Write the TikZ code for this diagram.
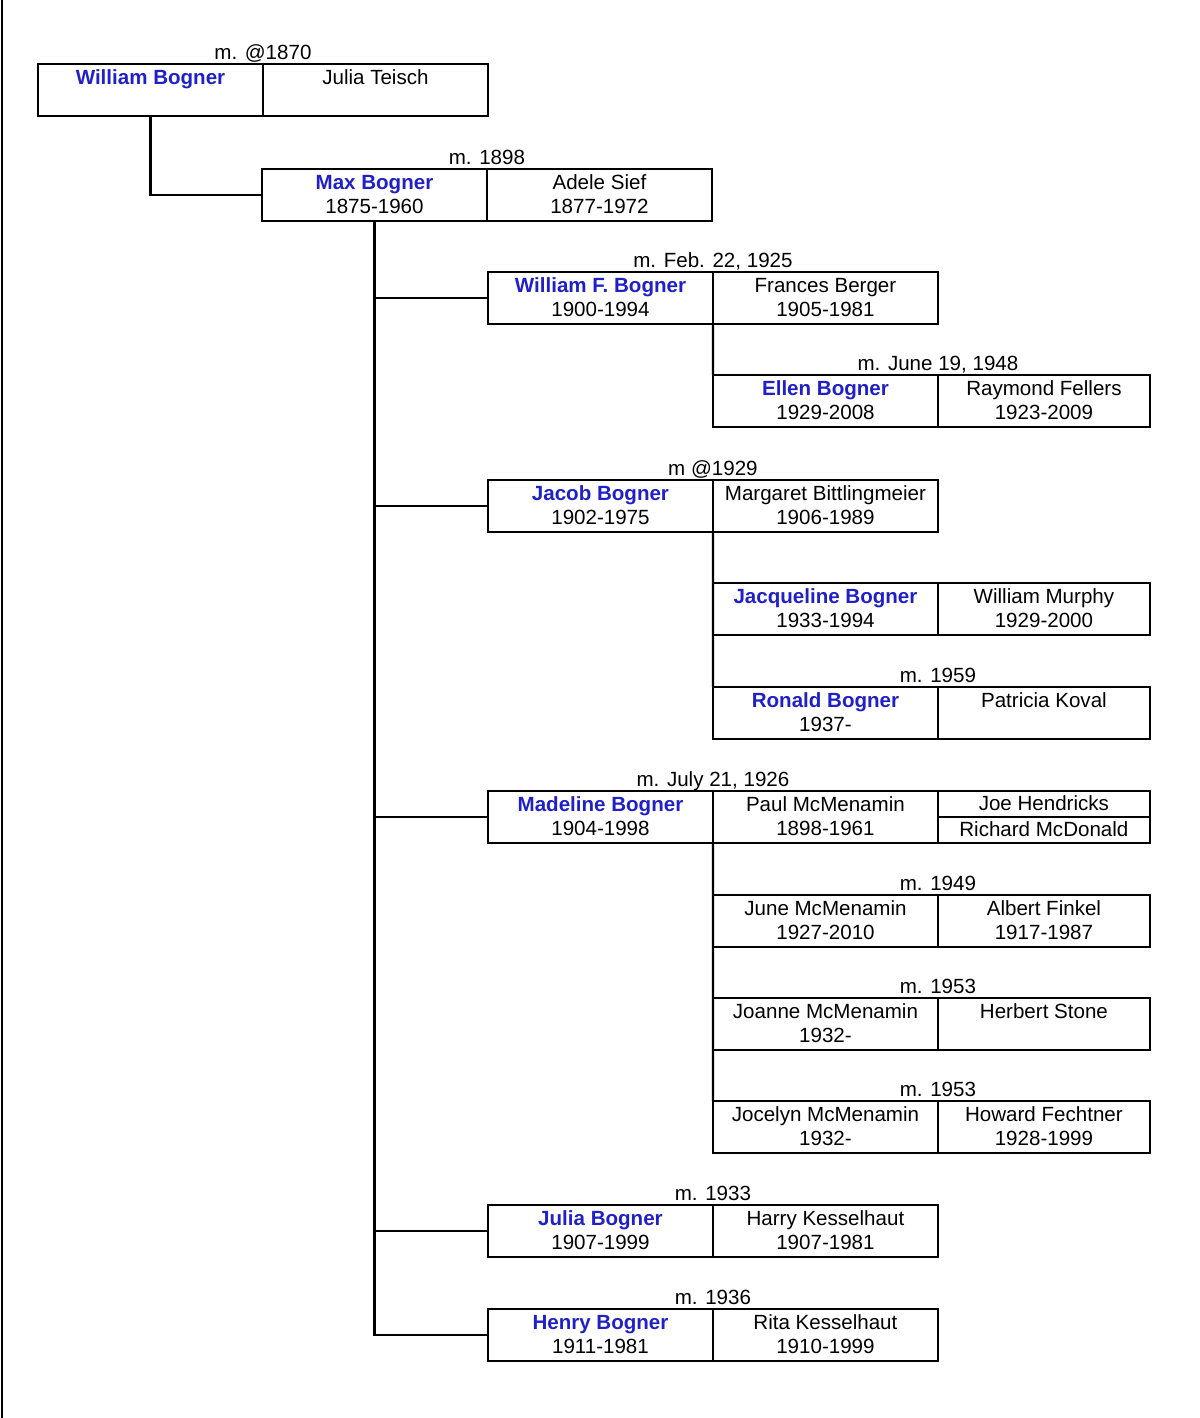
\documentclass[tikz,border=0pt]{standalone}
\usepackage{fontspec}
\setmainfont{Liberation Sans}
\usetikzlibrary{positioning}
\definecolor{nameblue}{RGB}{32,32,200}

\newcommand{\bname}[1]{\textcolor{nameblue}{\bfseries #1}}
\newcommand{\cstrut}{\rule[-3.4pt]{0pt}{14.2pt}}
\newcommand{\cellt}[2]{\cstrut#1\\\cstrut#2}

\tikzset{
  cell/.style={draw, line width=1.2pt, inner sep=0pt, outer sep=0pt,
    minimum width=4.5cm, minimum height=1.04cm, align=center,
    font=\fontsize{11.7}{14.2}\selectfont},
  narrow/.style={cell, minimum width=4.24cm},
  half/.style={narrow, minimum height=0.52cm},
  mlabel/.style={anchor=base, yshift=2.8pt, inner sep=0pt,
    font=\fontsize{11.7}{14.2}\selectfont},
  link/.style={line width=1.2pt}
}

\begin{document}
\begin{tikzpicture}[x=0.02cm, y=-0.02cm]
	\useasboundingbox (0,0) rectangle (1200,1418);
	\draw [line width=1.5pt] (2,0) -- (2,1418);
	% William and Julia
	\node [cell, anchor=north west] (wb) at (38,64) {\cellt{\bname{William Bogner}}{}};
	\node [cell, right=0pt of wb] (jt) {\cellt{Julia Teisch}{}};
	\node [mlabel] (m1) at (wb.north east) {m. @1870};
	% Max and Adele
	\node [cell, anchor=north west] (max) at (262,169) {\cellt{\bname{Max Bogner}}{1875-1960}};
	\node [cell, right=0pt of max] (as) {\cellt{Adele Sief}{1877-1972}};
	\node [mlabel] (m2) at (max.north east) {m. 1898};
	% children of Max
	\node [cell, anchor=north west] (wf) at (488,272) {\cellt{\bname{William F. Bogner}}{1900-1994}};
	\node [cell, right=0pt of wf] (fb) {\cellt{Frances Berger}{1905-1981}};
	\node [mlabel] (m3) at (wf.north east) {m. Feb. 22, 1925};
	\node [cell, anchor=north west] (ellen) at (713,375) {\cellt{\bname{Ellen Bogner}}{1929-2008}};
	\node [narrow, right=0pt of ellen] (rf) {\cellt{Raymond Fellers}{1923-2009}};
	\node [mlabel] (m4) at (ellen.north east) {m. June 19, 1948};
	\node [cell, anchor=north west] (jacob) at (488,480) {\cellt{\bname{Jacob Bogner}}{1902-1975}};
	\node [cell, right=0pt of jacob] (mb) {\cellt{Margaret Bittlingmeier}{1906-1989}};
	\node [mlabel] (m5) at (jacob.north east) {m @1929};
	\node [cell, anchor=north west] (jacq) at (713,583) {\cellt{\bname{Jacqueline Bogner}}{1933-1994}};
	\node [narrow, right=0pt of jacq] (wm) {\cellt{William Murphy}{1929-2000}};
	\node [cell, anchor=north west] (ron) at (713,687) {\cellt{\bname{Ronald Bogner}}{1937-}};
	\node [narrow, right=0pt of ron] (pk) {\cellt{Patricia Koval}{}};
	\node [mlabel] (m6) at (ron.north east) {m. 1959};
	\node [cell, anchor=north west] (mad) at (488,791) {\cellt{\bname{Madeline Bogner}}{1904-1998}};
	\node [cell, right=0pt of mad] (pm) {\cellt{Paul McMenamin}{1898-1961}};
	\node [half, anchor=north west] (jh) at (pm.north east) {\cstrut Joe Hendricks};
	\node [half, below=0pt of jh] (rm) {\cstrut Richard McDonald};
	\node [mlabel] (m7) at (mad.north east) {m. July 21, 1926};
	\node [cell, anchor=north west] (june) at (713,895) {\cellt{June McMenamin}{1927-2010}};
	\node [narrow, right=0pt of june] (af) {\cellt{Albert Finkel}{1917-1987}};
	\node [mlabel] (m8) at (june.north east) {m. 1949};
	\node [cell, anchor=north west] (joanne) at (713,998) {\cellt{Joanne McMenamin}{1932-}};
	\node [narrow, right=0pt of joanne] (hs) {\cellt{Herbert Stone}{}};
	\node [mlabel] (m9) at (joanne.north east) {m. 1953};
	\node [cell, anchor=north west] (jocelyn) at (713,1101) {\cellt{Jocelyn McMenamin}{1932-}};
	\node [narrow, right=0pt of jocelyn] (hf) {\cellt{Howard Fechtner}{1928-1999}};
	\node [mlabel] (m10) at (jocelyn.north east) {m. 1953};
	\node [cell, anchor=north west] (julia) at (488,1205) {\cellt{\bname{Julia Bogner}}{1907-1999}};
	\node [cell, right=0pt of julia] (hk) {\cellt{Harry Kesselhaut}{1907-1981}};
	\node [mlabel] (m11) at (julia.north east) {m. 1933};
	\node [cell, anchor=north west] (henry) at (488,1309) {\cellt{\bname{Henry Bogner}}{1911-1981}};
	\node [cell, right=0pt of henry] (rk) {\cellt{Rita Kesselhaut}{1910-1999}};
	\node [mlabel] (m12) at (henry.north east) {m. 1936};
	% lines of descent
	\draw [link] (wb.south) |- (max.west);
	\draw [link] (max.south) |- (henry.west);
	\draw [link] (max.south |- wf.west) -- (wf.west);
	\draw [link] (max.south |- jacob.west) -- (jacob.west);
	\draw [link] (max.south |- mad.west) -- (mad.west);
	\draw [link] (max.south |- julia.west) -- (julia.west);
	\draw [link] (wf.south east) -- (ellen.north west);
	\draw [link] (jacob.south east) -- (ron.north west);
	\draw [link] (mad.south east) -- (jocelyn.north west);
\end{tikzpicture}
\end{document}
